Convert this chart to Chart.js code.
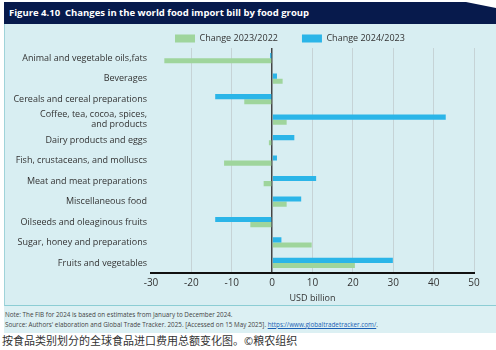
<!DOCTYPE html>
<html lang="en">
<head>
  <meta charset="UTF-8">
  <title>Changes in the world food import bill by food group</title>
  <script src="https://cdn.jsdelivr.net/npm/chart.js"></script>
  <style>
    body { margin: 0; width: 496px; height: 350px; background: #fff; font-family: "Open Sans", sans-serif; position: relative; overflow: hidden; }
    #titleBar { position: absolute; left: 4px; top: 2px; width: 492px; height: 22px; background: #071a4c;
      clip-path: polygon(0 0, 462px 0, 492px 6px, 492px 100%, 0 100%); z-index: 2; }
    #titleBar span { position: absolute; left: 5px; top: 4px; color: #fff; font-weight: bold; font-size: 9.5px; }
    #panel { position: absolute; left: 4px; top: 24px; width: 492px; height: 282px; background: #d8eef2;
      border-left: 1px solid #9fd3d9; border-bottom: 1px solid #8ccdd4; box-sizing: border-box; }
    #chartBox { position: absolute; left: 4px; top: 0; width: 492px; height: 306px; z-index: 1; }
    #foot { position: absolute; left: 4px; top: 306px; width: 492px; height: 27px; background: #dcf0f3; }
    #foot div { position: absolute; left: 1px; font-size: 6.3px; color: #444; white-space: nowrap; }
    #foot a { color: #1a5fb4; }
    #caption { position: absolute; left: 2px; top: 332px; font-family: "Noto Sans CJK SC", sans-serif; font-size: 11px; color: #333; }
  </style>
</head>
<body>
  <div id="titleBar"><span>Figure 4.10&nbsp; Changes in the world food import bill by food group</span></div>
  <div id="panel"></div>
  <div id="chartBox"><canvas id="chart"></canvas></div>
  <div id="foot">
    <div style="top:4px">Note: The FIB for 2024 is based on estimates from January to December 2024.</div>
    <div style="top:14px">Source: Authors' elaboration and Global Trade Tracker. 2025. [Accessed on 15 May 2025]. <a href="#">https://www.globaltradetracker.com/</a>.</div>
  </div>
  <div id="caption">按食品类别划分的全球食品进口费用总额变化图。©粮农组织</div>

  <script>
    const categories = [
      'Animal and vegetable oils,fats',
      'Beverages',
      'Cereals and cereal preparations',
      ['Coffee, tea, cocoa, spices,', 'and products'],
      'Dairy products and eggs',
      'Fish, crustaceans, and molluscs',
      'Meat and meat preparations',
      'Miscellaneous food',
      'Oilseeds and oleaginous fruits',
      'Sugar, honey and preparations',
      'Fruits and vegetables'
    ];
    const change2023 = [-26.7, 2.6, -6.9, 3.6, -0.8, -11.9, -2.1, 3.6, -5.4, 9.8, 20.5];
    const change2024 = [-0.5, 1.2, -14.1, 43.0, 5.5, 1.2, 10.9, 7.2, -14.1, 2.3, 29.9];
    const xTicks = [-30, -20, -10, 0, 10, 20, 30, 40, 50];

    const font = { family: '"Open Sans", sans-serif', size: 9 };

    new Chart(document.getElementById('chart'), {
      type: 'bar',
      data: {
        labels: categories,
        datasets: [
          { label: 'Change 2024/2023', data: change2024, backgroundColor: '#2bb5e8' },
          { label: 'Change 2023/2022', data: change2023, backgroundColor: '#9fd59c' }
        ]
      },
      options: {
        indexAxis: 'y',
        responsive: true,
        maintainAspectRatio: false,
        animation: false,
        categoryPercentage: 0.5,
        barPercentage: 1,
        layout: { padding: { left: 0, right: 22, top: 10, bottom: 0 } },
        plugins: {
          tooltip: { enabled: false },
          legend: {
            reverse: true,
            fullSize: false,
            align: 'start',
            maxHeight: 38,
            labels: { boxWidth: 20, boxHeight: 8, padding: 24, color: '#333', font: font }
          }
        },
        scales: {
          x: {
            min: -30, max: 50,
            afterBuildTicks: s => { s.ticks = xTicks.map(v => ({ value: v })); },
            grid: {
              drawTicks: false,
              color: c => c.tick.value === 0 ? '#444' : (c.tick.value === -30 ? 'rgba(0,0,0,0)' : '#c6d3d6'),
              lineWidth: c => c.tick.value === 0 ? 1.5 : 1
            },
            border: { color: '#111', width: 2 },
            ticks: { padding: 4, color: '#333', font: { family: font.family, size: 10 } },
            title: { display: true, text: 'USD billion', color: '#333', font: font, padding: { top: 0, bottom: 2 } }
          },
          y: {
            afterFit: s => { s.width = 147; },
            grid: { display: false, drawTicks: false },
            border: { display: false },
            ticks: { autoSkip: false, color: '#333', font: { family: font.family, size: 9, lineHeight: 1.1 }, padding: 4 }
          }
        }
      }
    });
  </script>
</body>
</html>
